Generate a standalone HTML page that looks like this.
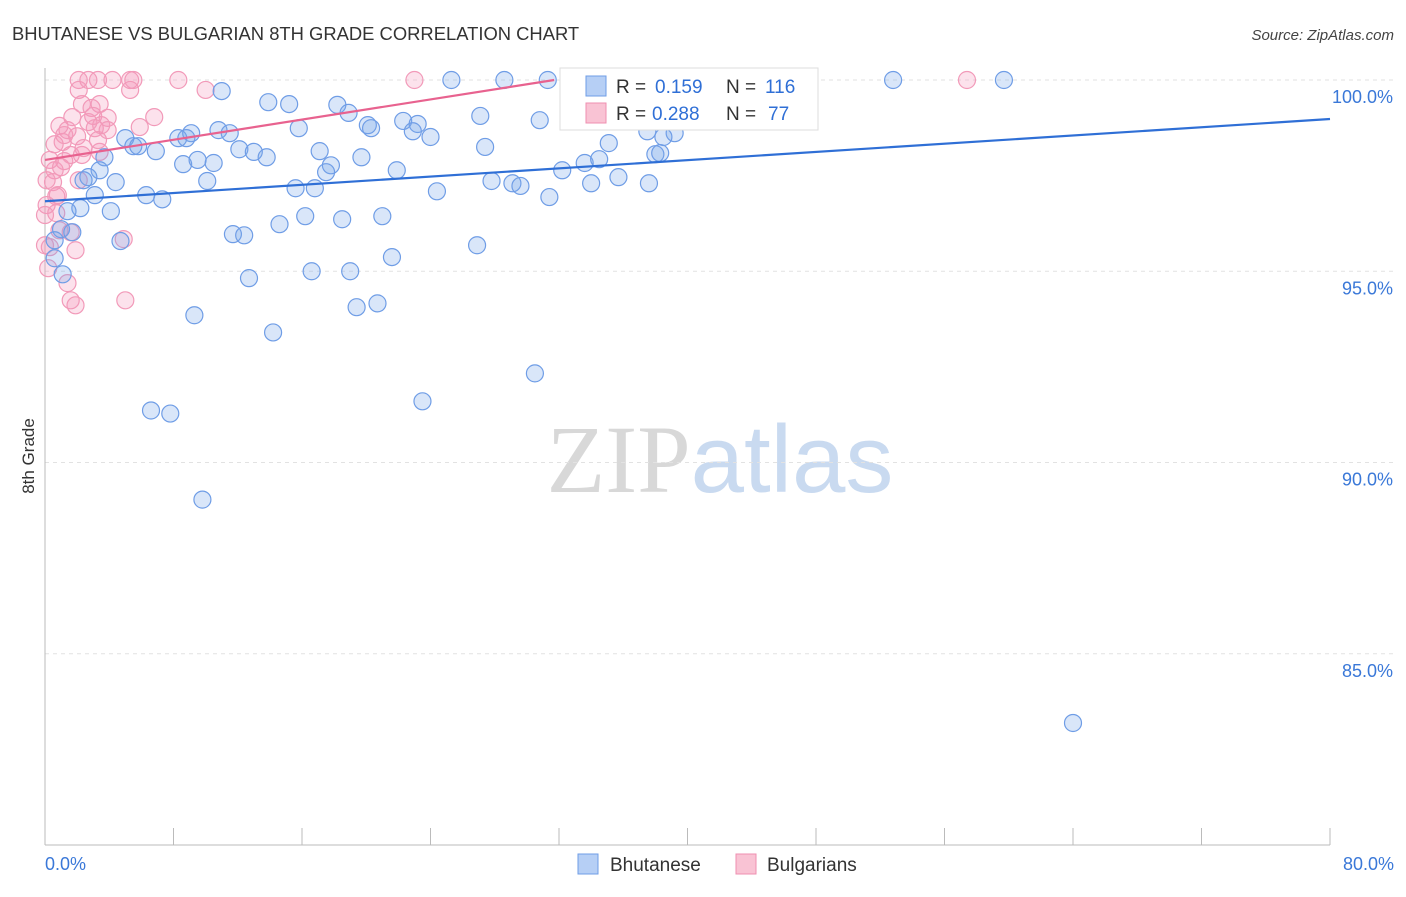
<!DOCTYPE html>
<html><head><meta charset="utf-8"><style>
body{margin:0;background:#fff;font-family:"Liberation Sans",sans-serif;}
svg text{font-family:"Liberation Sans",sans-serif;}
</style></head><body>
<svg id="chart" width="1406" height="892" viewBox="0 0 1406 892" xmlns="http://www.w3.org/2000/svg">
<text x="12" y="40" font-size="18.4" fill="#333">BHUTANESE VS BULGARIAN 8TH GRADE CORRELATION CHART</text>
<text x="1394" y="40" font-size="15" fill="#444" text-anchor="end" font-style="italic">Source: ZipAtlas.com</text>
<text transform="translate(34,456) rotate(-90)" font-size="17" fill="#333" text-anchor="middle">8th Grade</text>
<text x="720" y="492" font-size="96" text-anchor="middle"><tspan fill="#d8d8d8" font-family="Liberation Serif">ZIP</tspan><tspan fill="#c9daf0">atlas</tspan></text>
<g id="grid"></g><g id="axes"></g><g id="pts"></g><g id="trend"></g>
<g>
<rect x="560" y="68" width="258" height="62" fill="#fff" stroke="#ddd"/>
<rect x="586" y="76" width="20" height="20" fill="#b6cff5" stroke="#6f9de6"/>
<text x="616" y="93" font-size="19" fill="#333">R =</text>
<text x="655" y="93" font-size="19" fill="#2f6fd6">0.159</text>
<text x="726" y="93" font-size="19" fill="#333">N =</text>
<text x="765" y="93" font-size="19" fill="#2f6fd6">116</text>
<rect x="586" y="103" width="20" height="20" fill="#f9c3d4" stroke="#ef8fb0"/>
<text x="616" y="120" font-size="19" fill="#333">R =</text>
<text x="652" y="120" font-size="19" fill="#2f6fd6">0.288</text>
<text x="726" y="120" font-size="19" fill="#333">N =</text>
<text x="768" y="120" font-size="19" fill="#2f6fd6">77</text>
</g>
<g>
<rect x="578" y="854" width="20" height="20" fill="#b6cff5" stroke="#6f9de6"/>
<text x="610" y="871" font-size="19" fill="#333">Bhutanese</text>
<rect x="736" y="854" width="20" height="20" fill="#f9c3d4" stroke="#ef8fb0"/>
<text x="767" y="871" font-size="19" fill="#333">Bulgarians</text>
</g>
</svg>
<script>
const yTicks=[100,95,90,85];
const yTickLabels=["100.0%","95.0%","90.0%","85.0%"];
const xTicks=[0,8,16,24,32,40,48,56,64,72,80];
const xEndLabels=["0.0%","80.0%"];
const blueX=[25.3,28.6,31.3,52.8,59.7,11.0,13.9,15.2,18.2,18.9,27.1,20.1,22.3,23.2,22.9,24.0,20.3,15.8,10.8,11.5,9.1,8.3,8.8,5.0,5.5,5.8,6.9,12.1,13.0,13.8,17.1,19.7,17.8,17.5,21.9,8.6,9.5,10.5,3.7,3.4,2.7,2.4,4.4,10.1,6.3,7.3,3.1,2.2,1.4,4.1,15.6,16.8,24.4,27.8,29.1,29.6,31.4,32.2,33.6,34.5,35.1,34.0,35.7,37.6,38.0,38.3,37.5,39.2,38.5,30.8,32.6,27.4,11.7,12.4,14.6,16.2,18.5,21.0,26.9,21.6,19.0,16.6,12.7,4.7,1.0,0.6,1.7,0.6,1.1,19.4,20.7,9.3,14.2,30.5,6.6,7.8,23.5,9.8,64.0,43.2,45.1,44.4];
const blueY=[100,100,100,100,100,99.71,99.42,99.37,99.35,99.14,99.06,98.82,98.93,98.85,98.66,98.51,98.74,98.74,98.69,98.61,98.61,98.48,98.48,98.48,98.27,98.27,98.14,98.19,98.12,97.98,98.14,97.98,97.77,97.59,97.64,97.80,97.91,97.83,97.98,97.64,97.46,97.38,97.33,97.36,96.99,96.88,96.99,96.65,96.57,96.57,97.17,97.17,97.09,97.36,97.30,97.23,96.94,97.64,97.83,97.93,98.35,97.30,97.46,97.30,98.06,98.09,98.66,98.61,98.51,98.95,99.42,98.25,95.97,95.94,96.23,96.44,96.36,96.44,95.68,95.37,95.0,95.0,94.82,95.79,96.10,95.81,96.02,95.34,94.92,94.06,94.16,93.85,93.40,92.33,91.36,91.28,91.60,89.03,83.19,100,100,99.53];
const pinkX=[2.1,2.7,3.3,4.2,5.3,5.5,8.3,23.0,57.4,10.0,2.1,5.3,2.3,3.4,2.9,3.0,3.9,6.8,1.7,0.9,1.4,2.0,1.1,2.4,3.4,3.1,5.9,0.6,0.3,1.2,0.6,1.0,2.1,0.5,0.7,0.1,0.7,0.9,1.6,0.3,1.9,0.2,1.4,1.6,1.9,5.0,4.9,0,0,0.8,0.1,1.6,2.3,3.5,3.9,3.3,2.7,1.2];
const pinkY=[100,100,100,100,100,100,100,100,100,99.74,99.74,99.74,99.37,99.37,99.27,99.06,99.01,99.03,99.03,98.80,98.69,98.53,98.38,98.22,98.12,98.74,98.77,98.32,97.91,97.88,97.64,97.72,97.38,97.33,96.96,96.73,96.52,96.07,96.02,95.63,95.55,95.08,94.69,94.24,94.11,94.24,95.84,95.68,96.47,96.99,97.38,98.04,98.04,98.82,98.69,98.43,98.90,98.56];
const blueTrendX=[0,80], blueTrendY=[96.83,98.98];
const pinkTrendX=[0,31.7], pinkTrendY=[97.91,100];

const NS="http://www.w3.org/2000/svg";
const sx=v=>45+v*(1285/80);
const sy=v=>845-(v-80)*(765/20);
function mk(tag,attrs,parent){const e=document.createElementNS(NS,tag);for(const k in attrs)e.setAttribute(k,attrs[k]);document.getElementById(parent).appendChild(e);return e;}
yTicks.forEach((t,i)=>{
  const l=mk('line',{x1:45,x2:1394,y1:sy(t),y2:sy(t),stroke:'#e2e2e2','stroke-dasharray':'4,4'},'grid');
  
  
  const tx=mk('text',{x:1393,y:sy(t)+23,'font-size':18,fill:'#3a78d8','text-anchor':'end'},'grid');
  tx.textContent=yTickLabels[i];
  
  
});
const ax=mk('line',{x1:45,x2:1330,y1:845,y2:845,stroke:'#bbb'},'axes');


const ay=mk('line',{x1:45,x2:45,y1:68,y2:845,stroke:'#bbb'},'axes');


xTicks.forEach(t=>{
  const l=mk('line',{x1:sx(t),x2:sx(t),y1:828,y2:845,stroke:'#bbb'},'axes');
  
  
});
const xl0=mk('text',{x:45,y:870,'font-size':18,fill:'#3a78d8'},'axes');
xl0.textContent=xEndLabels[0];


const xl1=mk('text',{x:1394,y:870,'font-size':18,fill:'#3a78d8','text-anchor':'end'},'axes');
xl1.textContent=xEndLabels[1];


pinkX.forEach((x,i)=>{
  const c=mk('circle',{cx:sx(x),cy:sy(pinkY[i]),r:8.5,fill:'rgba(245,150,185,0.28)',stroke:'#f29ab9','stroke-width':1.2},'pts');
  
  
});
blueX.forEach((x,i)=>{
  const c=mk('circle',{cx:sx(x),cy:sy(blueY[i]),r:8.5,fill:'rgba(120,165,235,0.28)',stroke:'#6f9de6','stroke-width':1.2},'pts');
  
  
});
const bt=mk('line',{x1:sx(blueTrendX[0]),y1:sy(blueTrendY[0]),x2:sx(blueTrendX[1]),y2:sy(blueTrendY[1]),stroke:'#2f6fd6','stroke-width':2.2},'trend');


const pt=mk('line',{x1:sx(pinkTrendX[0]),y1:sy(pinkTrendY[0]),x2:sx(pinkTrendX[1]),y2:sy(pinkTrendY[1]),stroke:'#e8628f','stroke-width':2.2},'trend');


</script>
</body></html>
